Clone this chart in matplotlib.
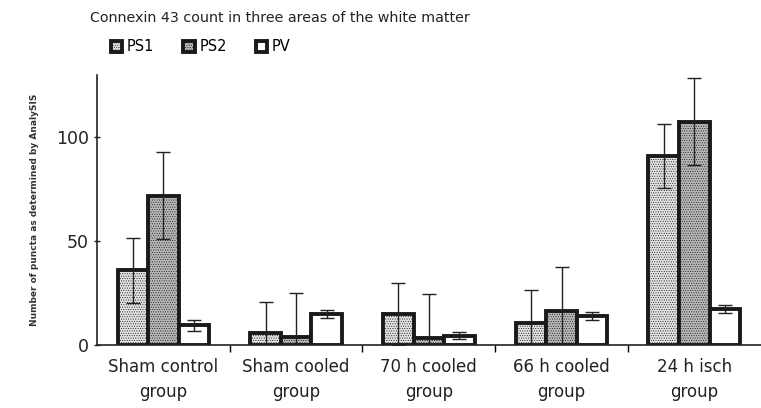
import numpy as np
import matplotlib
matplotlib.use("Agg")
import matplotlib.pyplot as plt
from matplotlib.ticker import FixedLocator

groups = ["Sham control\ngroup", "Sham cooled\ngroup", "70 h cooled\ngroup",
          "66 h cooled\ngroup", "24 h isch\ngroup"]
series = ["PS1", "PS2", "PV"]
ps1 = [36, 6, 15, 10.5, 91]
ps2 = [72, 4, 3.5, 16.5, 107.5]
pv = [9.5, 15, 4.5, 14, 17.5]
ps1_err = [15.5, 15, 15, 16, 15.5]
ps2_err = [21, 21, 21, 21, 21]
pv_err = [2.7, 2, 1.7, 2, 2]

plt.rcParams['hatch.color'] = '#999999'
plt.rcParams['hatch.linewidth'] = 0.4

fig = plt.figure(figsize=(7.61, 4.08), dpi=100)
ax = fig.add_axes([0.1275, 0.154, 0.872, 0.662])

x = np.arange(len(groups))
w = 0.23
styles = [("#e2e2e2", "......."), ("#b8b8b8", "......."), ("white", None)]
vals = [ps1, ps2, pv]
errs = [ps1_err, ps2_err, pv_err]
handles = []
for i, (v, e, (fc, h)) in enumerate(zip(vals, errs, styles)):
    b = ax.bar(x + (i - 1) * w, v, w, color=fc, hatch=h, edgecolor="#1a1a1a",
               linewidth=2.8, label=series[i], zorder=2)
    ax.errorbar(x + (i - 1) * w, v, yerr=e, fmt="none", ecolor="#222222",
                elinewidth=1, capsize=5, capthick=1, zorder=3)
    handles.append(b)

ax.set_xlim(-0.5, 4.5)
ax.set_ylim(0, 130)
ax.set_yticks([0, 50, 100])
ax.tick_params(axis="y", labelsize=12.5, length=5, width=1, direction="inout", colors="#222222")
ax.set_xticks(x)
ax.set_xticklabels(groups, fontsize=12, color="#222222", linespacing=1.5)
ax.tick_params(axis="x", which="major", length=0, pad=9)
ax.xaxis.set_minor_locator(FixedLocator([0.5, 1.5, 2.5, 3.5]))
ax.tick_params(axis="x", which="minor", length=5, width=1, direction="out")
for s in ["top", "right"]:
    ax.spines[s].set_visible(False)
for s in ["left", "bottom"]:
    ax.spines[s].set_linewidth(1.2)
    ax.spines[s].set_color("#222222")

ax.set_ylabel("Number of puncta as determined by AnalySIS", fontsize=6.5,
              fontweight="bold", color="#333333", labelpad=12)

fig.text(0.118, 0.955, "Connexin 43 count in three areas of the white matter",
         fontsize=10.3, color="#222222", va="center")
fig.legend(handles=handles, labels=series, loc="center left",
           bbox_to_anchor=(0.128, 0.885), ncol=3, frameon=False, fontsize=10.5,
           handlelength=0.8, handleheight=0.8, columnspacing=2.0, handletextpad=0.3)

plt.savefig("out.png", dpi=100)
